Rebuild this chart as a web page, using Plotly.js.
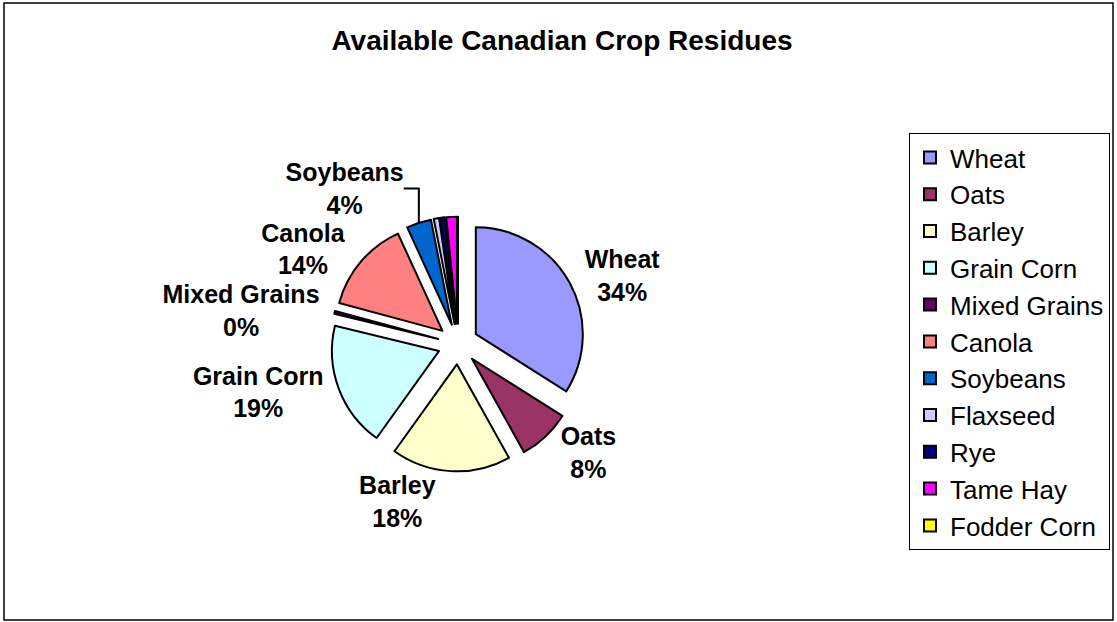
<!DOCTYPE html>
<html>
<head>
<meta charset="utf-8">
<script src="https://cdn.plot.ly/plotly-3.0.1.min.js"></script>
<style>
html,body{margin:0;padding:0;background:#fff;}
#chart{width:1117px;height:622px;}
</style>
</head>
<body>
<div id="chart"></div>
<script>
const titleText = "Available Canadian Crop Residues";
const crops = ["Wheat","Oats","Barley","Grain Corn","Mixed Grains","Canola","Soybeans","Flaxseed","Rye","Tame Hay","Fodder Corn"];
const shares = [33.8, 7.9, 17.9, 18.8, 0.4, 13.9, 3.7, 0.8, 0.7, 1.6, 0];
const labelled = [true, true, true, true, true, true, true, false, false, false, false];
const sliceColors = ["#9999FF","#993366","#FFFFCC","#CCFFFF","#660066","#FF8080","#0066CC","#CCCCFF","#000080","#FF00FF","#FFFF00"];

const W = 1117, H = 622;
const cx = 458, cy = 344, R = 107, pull = 0.19;
const half = R * (1 + pull);
const FONT = "Arial, 'Liberation Sans', sans-serif";

const trace = {
  type: "pie",
  labels: crops,
  values: shares,
  sort: false,
  direction: "clockwise",
  rotation: 0,
  pull: pull,
  marker: {colors: sliceColors, line: {color: "#000", width: 2}},
  textposition: "outside",
  texttemplate: labelled.map(s => s ? "%{label}<br>%{percent:.0%}" : ""),
  textfont: {family: FONT, size: 25, color: "#000", weight: "bold"},
  outsidetextfont: {family: FONT, size: 25, color: "#000", weight: "bold"},
  automargin: false,
  hoverinfo: "label+percent",
  domain: {x: [(cx - half) / W, (cx + half) / W], y: [1 - (cy + half) / H, 1 - (cy - half) / H]}
};

const layout = {
  width: W, height: H,
  margin: {l: 0, r: 0, t: 0, b: 0},
  paper_bgcolor: "#fff",
  font: {family: FONT, color: "#000"},
  title: {text: "<b>" + titleText + "</b>", font: {family: FONT, size: 28, color: "#000"}, x: 562 / W, xanchor: "center", y: 1 - 40 / H, yanchor: "middle"},
  showlegend: true,
  legend: {
    x: 909 / W, y: 1 - 133 / H, xanchor: "left", yanchor: "top",
    bordercolor: "#000", borderwidth: 1, bgcolor: "#fff",
    font: {family: FONT, size: 26, color: "#000"},
    traceorder: "normal"
  },
  shapes: [
    {type: "rect", xref: "paper", yref: "paper", x0: 4 / W, x1: 1113 / W, y0: 1 - 620 / H, y1: 1 - 3 / H, line: {color: "#000", width: 1.5}}
  ]
};

Plotly.newPlot("chart", [trace], layout, {displayModeBar: false, staticPlot: true});
</script>
</body>
</html>
